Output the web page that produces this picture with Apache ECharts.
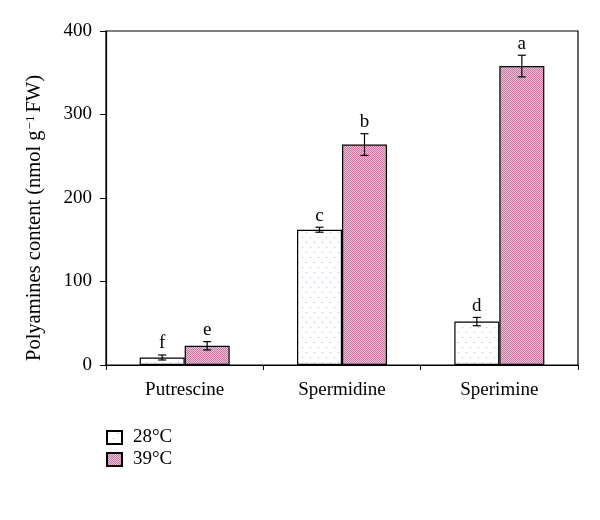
<!DOCTYPE html>
<html><head><meta charset="utf-8">
<script src="https://cdn.jsdelivr.net/npm/echarts@6/dist/echarts.min.js"></script>
<style>html,body{margin:0;padding:0;background:#fff}#c{width:600px;height:520px}</style>
</head><body><div id="c"></div>
<script>
var categories = ['Putrescine', 'Spermidine', 'Sperimine'];
var seriesNames = ['28°C', '39°C'];
var values28 = [9, 162, 52];
var values39 = [23, 264, 358];
var err28 = [3, 3, 5];
var err39 = [5, 13, 13];
var letters28 = ['f', 'c', 'd'];
var letters39 = ['e', 'b', 'a'];
var yTicks = [0, 100, 200, 300, 400];

var FONT = '"Liberation Serif", "DejaVu Serif", serif';

function dotPattern() {
  var c = document.createElement('canvas');
  c.width = 8; c.height = 10;
  var g = c.getContext('2d');
  g.fillStyle = '#ffffff'; g.fillRect(0, 0, 8, 10);
  g.fillStyle = '#b4b4dc';
  g.fillRect(2, 2, 1, 1);
  g.fillRect(6, 7, 1, 1);
  return c;
}
function checkPattern() {
  var c = document.createElement('canvas');
  c.width = 2; c.height = 2;
  var g = c.getContext('2d');
  g.fillStyle = '#eac2d8'; g.fillRect(0, 0, 2, 2);
  g.fillStyle = '#c077a2';
  g.fillRect(0, 0, 1, 1); g.fillRect(1, 1, 1, 1);
  return c;
}

var chart = echarts.init(document.getElementById('c'));
var BW = 45;

function errSeries(vals, errs, letters, offset) {
  var data = vals.map(function (v, i) { return [i, v, errs[i]]; });
  return {
    type: 'custom',
    silent: true,
    z: 10,
    data: data,
    renderItem: function (params, api) {
      var i = api.value(0), v = api.value(1), e = api.value(2);
      var top = api.coord([i, v + e]);
      var bot = api.coord([i, v - e]);
      var x = top[0] + offset;
      var cap = 4;
      var st = { stroke: '#000', lineWidth: 1.2 };
      return {
        type: 'group',
        children: [
          { type: 'line', shape: { x1: x, y1: top[1], x2: x, y2: bot[1] }, style: st },
          { type: 'line', shape: { x1: x - cap, y1: top[1], x2: x + cap, y2: top[1] }, style: st },
          { type: 'line', shape: { x1: x - cap, y1: bot[1], x2: x + cap, y2: bot[1] }, style: st },
          { type: 'text', style: { text: letters[i], x: x, y: top[1] - 2, align: 'center', verticalAlign: 'bottom', font: '19px ' + FONT, fill: '#000' } }
        ]
      };
    }
  };
}

chart.setOption({
  animation: false,
  grid: { left: 106, right: 22, top: 31, bottom: 155, show: true, borderColor: '#000', borderWidth: 1.2 },
  legend: {
    orient: 'vertical', left: 106, top: 428, padding: 0,
    itemWidth: 15, itemHeight: 13, itemGap: 3,
    icon: 'rect',
    textStyle: { fontFamily: FONT, fontSize: 19, color: '#000', padding: [0, 0, 0, 6] },
    data: seriesNames
  },
  xAxis: {
    type: 'category', data: categories,
    axisLine: { lineStyle: { color: '#000', width: 1.2 } },
    axisTick: { show: true, length: 5, lineStyle: { color: '#000' } },
    axisLabel: { fontFamily: FONT, fontSize: 19, color: '#000', margin: 16 }
  },
  yAxis: {
    type: 'value', min: 0, max: 400, interval: 100,
    name: '{a|Polyamines content (nmol g}{s|−1}{a|FW)}',
    nameLocation: 'middle', nameGap: 60, nameRotate: 90,
    nameTextStyle: { padding: [0, 40, 0, 0], rich: { a: { fontFamily: FONT, fontSize: 20.5, color: '#000' }, s: { fontFamily: FONT, fontSize: 13, color: '#000', verticalAlign: 'top', padding: [0, 3, 9, 1] } } },
    axisLine: { show: true, lineStyle: { color: '#000', width: 1.2 } },
    axisTick: { show: true, length: 6, lineStyle: { color: '#000' } },
    splitLine: { show: false },
    axisLabel: { fontFamily: FONT, fontSize: 19, color: '#000', margin: 14,
      formatter: function (v) { return yTicks.indexOf(v) >= 0 ? String(v) : ''; } }
  },
  series: [
    { name: seriesNames[0], type: 'bar', data: values28, barWidth: BW, barGap: '0%',
      itemStyle: { color: { image: dotPattern(), repeat: 'repeat' }, borderColor: '#000', borderWidth: 1.2 } },
    { name: seriesNames[1], type: 'bar', data: values39, barWidth: BW, barGap: '0%',
      itemStyle: { color: { image: checkPattern(), repeat: 'repeat' }, borderColor: '#000', borderWidth: 1.2 } },
    errSeries(values28, err28, letters28, -BW / 2),
    errSeries(values39, err39, letters39, BW / 2)
  ]
});
</script></body></html>
